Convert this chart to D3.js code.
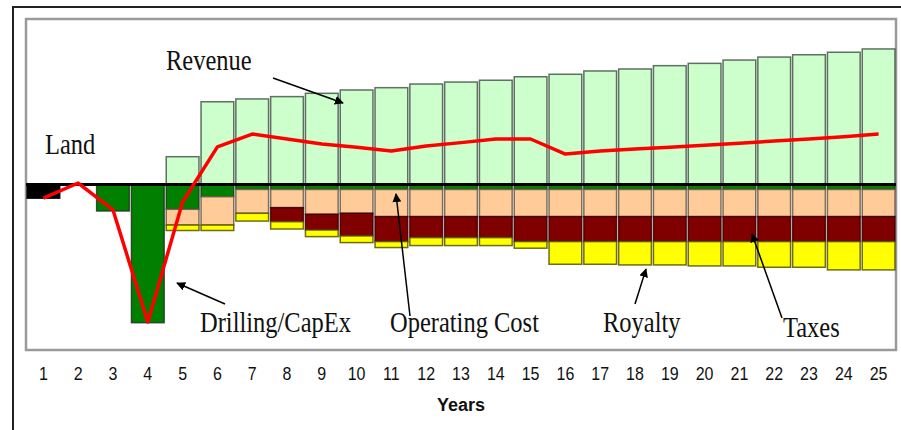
<!DOCTYPE html>
<html>
<head>
<meta charset="utf-8">
<script src="https://cdn.jsdelivr.net/npm/d3@7"></script>
<style>
  html, body { margin: 0; padding: 0; background: #fff; }
  svg { display: block; }
</style>
</head>
<body>
<svg id="chart" width="901" height="430"></svg>
<script>
// Project cash flow by year (arbitrary money units, costs shown below zero)
const years    = [1,2,3,4,5,6,7,8,9,10,11,12,13,14,15,16,17,18,19,20,21,22,23,24,25];
const revenue  = [0,0,0,0,16.8,50.0,51.7,53.1,55.1,57.1,58.5,60.7,61.9,63.0,65.1,66.6,68.6,69.8,71.8,73.2,75.2,77.0,78.4,79.9,81.9];
const land     = [8.3,0,0,0,0,0,0,0,0,0,0,0,0,0,0,0,0,0,0,0,0,0,0,0,0];
const drilling = [0,0,16.0,83.5,15.0,7.4,3.0,3.0,3.0,3.0,3.0,3.0,3.0,3.0,3.0,3.0,3.0,3.0,3.0,3.0,3.0,3.0,3.0,3.0,3.0];
const opCost   = [0,0,0,0,9.5,17.1,14.4,11.0,15.0,14.4,16.4,16.4,16.4,16.4,16.4,16.4,16.4,16.4,16.4,16.4,16.4,16.4,16.4,16.4,16.4];
const taxes    = [0,0,0,0,0,0,0,8.5,9.5,13.7,15.1,12.7,12.7,12.7,15.1,15.1,15.1,15.1,15.1,15.1,15.1,15.1,15.1,15.1,15.1];
const royalty  = [0,0,0,0,3.3,3.3,4.7,4.4,4.0,4.0,3.6,4.8,4.8,4.8,4.0,13.7,13.7,14.1,14.1,14.7,14.7,15.5,15.5,17.1,17.1];
const netCash  = [-8.2,0.9,-15.4,-83.1,-10.6,22.7,30.5,27.5,24.5,22.5,20.2,23.3,25.3,27.5,27.5,18.4,20.2,21.5,22.5,23.7,24.9,26.3,27.5,28.9,30.5];

const xTitle = "Years";

// Table for the stack: revenue up, costs down
const rows = years.map((yr, i) => ({
  year: yr,
  revenue: revenue[i],
  land: -land[i],
  drilling: -drilling[i],
  opCost: -opCost[i],
  taxes: -taxes[i],
  royalty: -royalty[i]
}));

const keys = ["revenue", "land", "drilling", "opCost", "taxes", "royalty"];
const colors = {
  revenue: "#ccffcc",
  land: "#000000",
  drilling: "#007f00",
  opCost: "#ffcc99",
  taxes: "#800000",
  royalty: "#ffff00"
};
const strokes = {
  revenue: "#46584a",
  land: "#000000",
  drilling: "#1f3a1f",
  opCost: "#6b5a4a",
  taxes: "#3a0000",
  royalty: "#555500"
};

const svg = d3.select("#chart");

const plot = { left: 26, right: 896, top: 19, bottom: 350 };

const x = d3.scaleBand()
  .domain(years)
  .range([plot.left, plot.right])
  .paddingInner(0.06)
  .paddingOuter(0.03);

const y = d3.scaleLinear()
  .domain([-100, 100])
  .range([plot.bottom, plot.top]);

// Outer frame
svg.append("path")
  .attr("d", "M13,440 L13,7 L905,7")
  .attr("fill", "none")
  .attr("stroke", "#222")
  .attr("stroke-width", 2);

// Plot box
svg.append("rect")
  .attr("x", plot.left).attr("y", plot.top)
  .attr("width", plot.right - plot.left)
  .attr("height", plot.bottom - plot.top)
  .attr("fill", "#fff")
  .attr("stroke", "#9a9a9a")
  .attr("stroke-width", 2.5);

const series = d3.stack()
  .keys(keys)
  .offset(d3.stackOffsetDiverging)(rows);

svg.append("g")
  .selectAll("g.series")
  .data(series)
  .join("g")
  .attr("class", "series")
  .attr("fill", d => colors[d.key])
  .attr("stroke", d => strokes[d.key])
  .selectAll("rect")
  .data(d => d.filter(p => p[1] !== p[0]))
  .join("rect")
  .attr("x", p => x(p.data.year))
  .attr("width", x.bandwidth())
  .attr("y", p => y(Math.max(p[0], p[1])))
  .attr("height", p => Math.abs(y(p[0]) - y(p[1])))
  .attr("stroke-width", 1.5)
  .attr("stroke-opacity", 0.85);

// Zero line
svg.append("line")
  .attr("x1", plot.left).attr("x2", plot.right)
  .attr("y1", y(0)).attr("y2", y(0))
  .attr("stroke", "#000")
  .attr("stroke-width", 3);

// Net cash flow line
const line = d3.line()
  .x((d, i) => x(years[i]) + x.bandwidth() / 2)
  .y(d => y(d));

svg.append("path")
  .datum(netCash)
  .attr("d", line)
  .attr("fill", "none")
  .attr("stroke", "#ff0000")
  .attr("stroke-width", 3.5)
  .attr("stroke-linejoin", "round");

// Year axis
const axG = svg.append("g")
  .attr("transform", "translate(0,380)")
  .call(d3.axisBottom(x).tickSize(0).tickPadding(0));
axG.select(".domain").remove();
axG.selectAll(".tick text")
  .attr("y", 0)
  .attr("dy", 0)
  .attr("font-family", "'Liberation Sans', Arial, sans-serif")
  .attr("font-size", 16)
  .attr("fill", "#111")
  .attr("transform", "scale(1,1.15)");

svg.append("text")
  .attr("x", 461).attr("y", 411)
  .attr("text-anchor", "middle")
  .attr("font-family", "'Liberation Sans', Arial, sans-serif")
  .attr("font-weight", "bold")
  .attr("font-size", 18)
  .attr("fill", "#111")
  .text(xTitle);

// Callouts
svg.append("defs").append("marker")
  .attr("id", "arrow")
  .attr("viewBox", "0 0 10 10")
  .attr("refX", 9).attr("refY", 5)
  .attr("markerWidth", 9).attr("markerHeight", 9)
  .attr("markerUnits", "userSpaceOnUse")
  .attr("orient", "auto")
  .append("path")
  .attr("d", "M0,0 L10,5 L0,10 Z")
  .attr("fill", "#000");

const callouts = [
  { text: "Revenue",        tx: 166, ty: 70,  from: [273, 78],  to: [343, 103] },
  { text: "Land",           tx: 45,  ty: 154, from: null,       to: null },
  { text: "Drilling/CapEx", tx: 200, ty: 332, from: [225, 304], to: [177, 283] },
  { text: "Operating Cost", tx: 390, ty: 332, from: [410, 316], to: [396, 194] },
  { text: "Royalty",        tx: 603, ty: 332, from: [635, 304], to: [646, 269] },
  { text: "Taxes",          tx: 783, ty: 337, from: [782, 318], to: [752, 234] }
];

callouts.forEach(c => {
  if (c.from) {
    svg.append("line")
      .attr("x1", c.from[0]).attr("y1", c.from[1])
      .attr("x2", c.to[0]).attr("y2", c.to[1])
      .attr("stroke", "#000")
      .attr("stroke-width", 1.5)
      .attr("marker-end", "url(#arrow)");
  }
  svg.append("text")
    .attr("transform", `translate(${c.tx},${c.ty}) scale(1,1.22)`)
    .attr("font-family", "'Liberation Serif', 'Times New Roman', serif")
    .attr("font-size", 24.5)
    .attr("fill", "#111")
    .text(c.text);
});
</script>
</body>
</html>
